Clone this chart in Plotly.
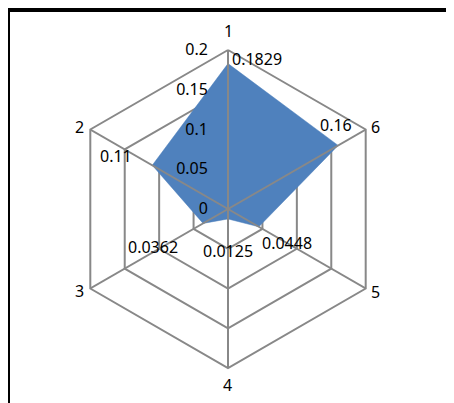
import math
import plotly.graph_objects as go

categories = ["1", "2", "3", "4", "5", "6"]
values = [0.1829, 0.11, 0.0362, 0.0125, 0.0448, 0.16]
value_labels = ["0.1829", "0.11", "0.0362", "0.0125", "0.0448", "0.16"]
radial_ticks = [0, 0.05, 0.1, 0.15, 0.2]
radial_ticktext = ["0", "0.05", "0.1", "0.15", "0.2"]

W, H = 454, 403
CX, CY, R = 220, 201, 159          # polar centre / radius in figure pixels
RMAX = 0.2
GRID = "#888888"
BLUE = "#4f81bd"
FONT = dict(family="Noto Sans, Open Sans, sans-serif", size=16, color="#000000")

# value-label offsets (pixels) relative to each data point
label_dx = [29, -36, -50, 0, 28, -2]
label_dy = [5, 9, -24, -32, -16, 20]
# category-label offsets (pixels) relative to each outer vertex
cat_dx = [0, -11, -11, 0, 10, 10]
cat_dy = [19, 3, -2, -17, -3, 3]


def to_paper(r, i):
    ang = math.radians(90 + 60 * i)
    rp = r / RMAX * R
    px = CX + rp * math.cos(ang)
    py = CY - rp * math.sin(ang)
    return px / W, 1 - py / H


fig = go.Figure()

fig.add_trace(go.Scatterpolar(
    r=values + values[:1],
    theta=categories + categories[:1],
    mode="lines",
    fill="toself",
    fillcolor=BLUE,
    line=dict(color=BLUE, width=0.5),
    hoverinfo="skip",
    showlegend=False,
))

# spokes drawn above the fill
spoke_r, spoke_t = [], []
for c in categories:
    spoke_r += [0, RMAX, None]
    spoke_t += [c, c, None]
fig.add_trace(go.Scatterpolar(
    r=spoke_r, theta=spoke_t, mode="lines",
    line=dict(color=GRID, width=2),
    connectgaps=False, hoverinfo="skip", showlegend=False,
))

annotations = []
for i, (v, lab) in enumerate(zip(values, value_labels)):
    x, y = to_paper(v, i)
    annotations.append(dict(
        x=x, y=y, xref="paper", yref="paper",
        text=lab, showarrow=False, font=FONT,
        xanchor="center", yanchor="middle",
        xshift=label_dx[i], yshift=label_dy[i],
    ))
for i, c in enumerate(categories):
    x, y = to_paper(RMAX, i)
    annotations.append(dict(
        x=x, y=y, xref="paper", yref="paper",
        text=c, showarrow=False, font=FONT,
        xanchor="center", yanchor="middle",
        xshift=cat_dx[i], yshift=cat_dy[i],
    ))

fig.update_layout(
    width=W, height=H,
    margin=dict(l=0, r=0, t=0, b=0),
    paper_bgcolor="white",
    plot_bgcolor="white",
    font=FONT,
    showlegend=False,
    annotations=annotations,
    polar=dict(
        domain=dict(x=[(CX - R) / W, (CX + R) / W],
                    y=[1 - (CY + R) / H, 1 - (CY - R) / H]),
        gridshape="linear",
        bgcolor="white",
        angularaxis=dict(
            type="category",
            categoryorder="array",
            categoryarray=categories,
            rotation=90,
            direction="counterclockwise",
            showgrid=False,
            showline=True,
            linecolor=GRID,
            linewidth=2,
            showticklabels=False,
            ticks="",
        ),
        radialaxis=dict(
            range=[0, RMAX],
            tickmode="array",
            tickvals=radial_ticks,
            ticktext=radial_ticktext,
            angle=90,
            side="counterclockwise",
            tickangle=90,
            showline=False,
            showgrid=True,
            gridcolor=GRID,
            gridwidth=2,
            ticks="outside",
            ticklen=14,
            tickcolor="rgba(0,0,0,0)",
            tickfont=FONT,
            layer="above traces",
        ),
    ),
    shapes=[
        dict(type="line", xref="paper", yref="paper",
             x0=0, x1=1.02, y0=1 - 2 / H, y1=1 - 2 / H,
             line=dict(color="black", width=4)),
        dict(type="line", xref="paper", yref="paper",
             x0=0, x1=0, y0=1.01, y1=-0.02,
             line=dict(color="black", width=4)),
    ],
)

fig.write_html("out.html")
